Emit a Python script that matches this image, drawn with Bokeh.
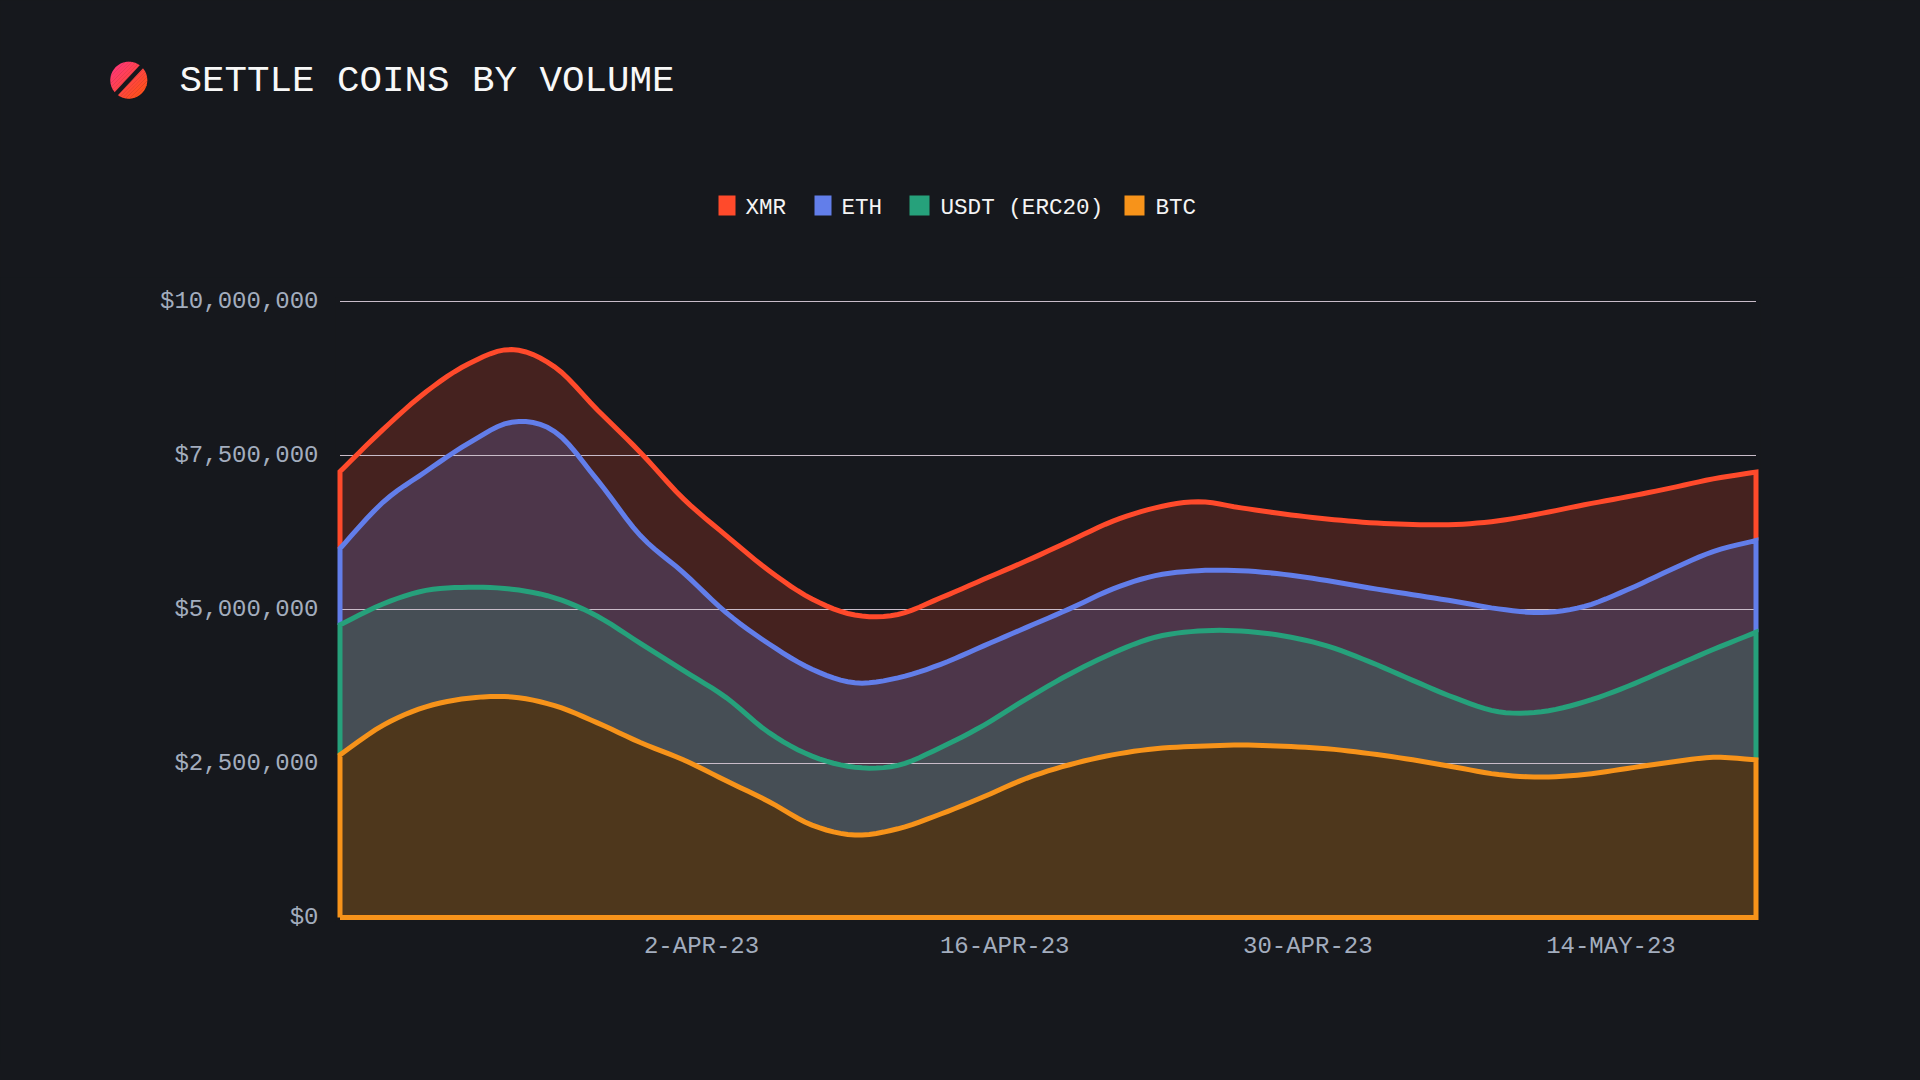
import math
import pandas as pd
from bokeh.core.properties import value
from bokeh.embed import file_html
from bokeh.resources import INLINE
from bokeh.plotting import figure
from bokeh.models import Range1d, FixedTicker, NumeralTickFormatter

TITLE = "SETTLE COINS BY VOLUME"
SERIES = ["XMR", "ETH", "USDT (ERC20)", "BTC"]
COLORS = ["#ff4a2b", "#627eea", "#26a17b", "#f7931a"]
FILLS = ["#45221f", "#4d364a", "#464e55", "#4e371c"]
START = "2023-03-16 07:12"
END = "2023-05-20 16:48"
TICK_DATES = ["2023-04-02", "2023-04-16", "2023-04-30", "2023-05-14"]
TICK_LABELS = ["2-APR-23", "16-APR-23", "30-APR-23", "14-MAY-23"]
Y_TICKS = [0, 2500000, 5000000, 7500000, 10000000]

# values per coin, $ millions
btc = [2.64, 3.12, 3.42, 3.56, 3.58, 3.44, 3.16, 2.84, 2.56, 2.22, 1.88, 1.50, 1.34, 1.44, 1.68, 1.96, 2.26,
       2.48, 2.64, 2.74, 2.78, 2.80, 2.78, 2.74, 2.66, 2.56, 2.44, 2.32, 2.28, 2.32, 2.42, 2.52, 2.60, 2.56]
usdt = [2.11, 1.97, 1.89, 1.80, 1.75, 1.75, 1.73, 1.61, 1.45, 1.35, 1.12, 1.12, 1.10, 1.03, 1.08, 1.16, 1.29,
        1.47, 1.65, 1.81, 1.87, 1.85, 1.79, 1.67, 1.49, 1.29, 1.12, 1.02, 1.06, 1.18, 1.33, 1.53, 1.75, 2.07]
eth = [1.24, 1.65, 1.93, 2.34, 2.71, 2.70, 2.21, 1.75, 1.59, 1.38, 1.44, 1.41, 1.37, 1.42, 1.35, 1.29, 1.16,
       1.06, 1.04, 1.00, 0.98, 0.98, 1.00, 1.06, 1.20, 1.39, 1.57, 1.67, 1.61, 1.55, 1.57, 1.59, 1.59, 1.49]
xmr = [1.25, 1.18, 1.29, 1.29, 1.18, 1.05, 1.14, 1.35, 1.20, 1.25, 1.19, 1.14, 1.10, 1.03, 1.08, 1.08, 1.08,
       1.10, 1.10, 1.10, 1.12, 1.02, 0.98, 1.00, 1.06, 1.14, 1.25, 1.43, 1.61, 1.65, 1.51, 1.33, 1.18, 1.11]

BG = "#16181d"
FONT = "Liberation Mono"


def to_ms(s):
    return pd.Timestamp(s).value / 1e6


x_knots = [d.value / 1e6 for d in pd.date_range(START, END, periods=len(btc))]


def curve(vals, sub=6):
    """Catmull-Rom path through the read values, as the reference's smoothed line does."""
    out = []
    n = len(vals)
    for i in range(n - 1):
        p0, p1, p2, p3 = vals[max(i - 1, 0)], vals[i], vals[i + 1], vals[min(i + 2, n - 1)]
        for k in range(sub):
            t = k / sub
            out.append(0.5 * (2 * p1 + (p2 - p0) * t + (2 * p0 - 5 * p1 + 4 * p2 - p3) * t * t
                              + (3 * p1 - p0 - 3 * p2 + p3) * t ** 3))
    out.append(vals[-1])
    return out


x = curve(x_knots)
tops = {}
running = [0.0] * len(btc)
for name, vals in [("BTC", btc), ("USDT (ERC20)", usdt), ("ETH", eth), ("XMR", xmr)]:
    lower = running
    running = [a + b * 1e6 for a, b in zip(running, vals)]
    tops[name] = (curve(lower), curve(running))

# ---------- header: title, logo, legend (a figure whose frame is the whole canvas, in pixels)
HEAD_H = 277
head = figure(width=1904, height=HEAD_H, output_backend="svg", toolbar_location=None,
              x_range=Range1d(0, 1904), y_range=Range1d(HEAD_H, 0),
              x_axis_type=None, y_axis_type=None,
              min_border=0, min_border_left=0, min_border_right=0, min_border_top=0, min_border_bottom=0,
              background_fill_color=BG, border_fill_color=BG, outline_line_color=None)
head.grid.visible = False

head.text(x=[179], y=[80.5], text=[TITLE], text_font=value(FONT), text_font_size="37.5px",
          text_color="#f8f8f8", text_baseline="alphabetic", text_align="left")

swatch_left = [718, 814, 909, 1124]
swatch_right = [735, 831, 929, 1144]
label_left = [745, 841, 940, 1155]
head.quad(left=swatch_left, right=swatch_right, top=[195] * 4, bottom=[215] * 4,
          fill_color=COLORS, line_color=None)
head.text(x=label_left, y=[207.5] * 4, text=SERIES, text_font=value(FONT), text_font_size="22.6px",
          text_color="#f4f4f4", text_baseline="alphabetic", text_align="left")

# logo: round disc with a diagonal gradient and a dark slit
cx, cy, R = 128.3, 79.7, 18.5
N = 14
a0, c0, c1 = math.radians(-45), (255, 58, 112), (255, 80, 30)
ux, uy = math.cos(a0 + math.pi / 2), math.sin(a0 + math.pi / 2)
vx, vy = math.cos(a0), math.sin(a0)
for i in range(N):
    t0, t1 = -R + 2 * R * i / N, -R + 2 * R * (i + 1) / N + 0.3
    pts = []
    for k in range(13):
        t = t0 + (t1 - t0) * k / 12
        h = math.sqrt(max(R * R - min(t * t, R * R), 0))
        pts.append((t, h))
    outline = pts + [(t, -h) for t, h in reversed(pts)]
    f = i / (N - 1)
    col = "#%02x%02x%02x" % tuple(int(c0[j] + (c1[j] - c0[j]) * f) for j in range(3))
    head.patch([cx + t * ux + h * vx for t, h in outline], [cy + t * uy + h * vy for t, h in outline],
               fill_color=col, line_color=None)
hw, sl = 2.2, R + 1
d = (math.cos(math.radians(-47)), math.sin(math.radians(-47)))
n = (-d[1], d[0])
head.patch([cx - sl * d[0] - hw * n[0], cx + sl * d[0] - hw * n[0], cx + sl * d[0] + hw * n[0], cx - sl * d[0] + hw * n[0]],
           [cy - sl * d[1] - hw * n[1], cy + sl * d[1] - hw * n[1], cy + sl * d[1] + hw * n[1], cy - sl * d[1] + hw * n[1]],
           fill_color=BG, line_color=None)

# ---------- chart; frame is a little larger than the data so the outlines are not clipped
xpad = (x[-1] - x[0]) * 4.5 / 1416
ypad = 1e7 * 4 / 616
p = figure(width=1904, height=1064 - HEAD_H, output_backend="svg", toolbar_location=None,
           x_range=Range1d(x[0] - xpad, x[-1] + xpad),
           y_range=Range1d(-ypad, 1e7 + ypad),
           min_border_left=335, min_border_right=144, min_border_top=20, min_border_bottom=143,
           background_fill_color=BG, border_fill_color=BG, outline_line_color=None)
p.grid.visible = False

for ax in (p.xaxis[0], p.yaxis[0]):
    ax.axis_line_color = None
    ax.major_tick_line_color = None
    ax.minor_tick_line_color = None
    ax.major_label_text_font = FONT
    ax.major_label_text_font_size = "24px"
    ax.major_label_text_color = "#a3adbe"

tick_ms = [int(to_ms(d)) for d in TICK_DATES]
p.xaxis[0].ticker = FixedTicker(ticks=tick_ms)
p.xaxis[0].major_label_overrides = dict(zip(tick_ms, TICK_LABELS))
p.xaxis[0].major_label_standoff = 5
p.yaxis[0].ticker = FixedTicker(ticks=Y_TICKS)
p.yaxis[0].formatter = NumeralTickFormatter(format="$0,0")
p.yaxis[0].major_label_standoff = 11

# band fills
for name, fill in zip(SERIES[:3], FILLS[:3]):
    lo, hi = tops[name]
    p.varea(x=x, y1=lo, y2=hi, fill_color=fill)

# gridlines run over the upper bands but under the BTC band
p.segment(x0=[x[0]] * len(Y_TICKS), x1=[x[-1]] * len(Y_TICKS), y0=Y_TICKS, y1=Y_TICKS,
          line_color="#c9bcc9", line_width=1.2)

lo, hi = tops["BTC"]
p.varea(x=x, y1=lo, y2=hi, fill_color=FILLS[3])

# band outlines
for name, col in zip(SERIES, COLORS):
    lo, hi = tops[name]
    if name == "BTC":
        xs = [x[0]] + x + [x[-1], x[0]]
        ys = [0.0] + hi + [0.0, 0.0]
    else:
        xs = [x[0]] + x + [x[-1]]
        ys = [lo[0]] + hi + [lo[-1]]
    p.line(xs, ys, line_color=col, line_width=5, line_join="miter")

html = file_html([head, p], INLINE).replace("<head>", "<head><style>html,body{background:#16181d}</style>", 1)
open("out.html", "w").write(html)
